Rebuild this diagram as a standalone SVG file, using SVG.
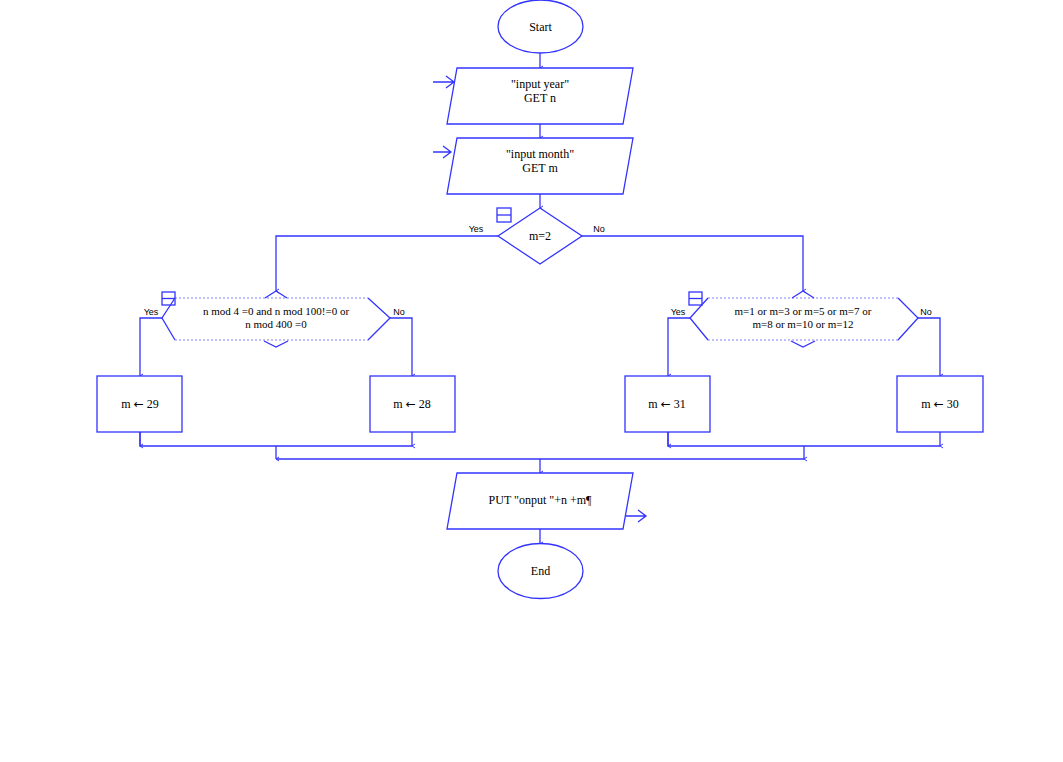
<svg xmlns="http://www.w3.org/2000/svg" width="1063" height="762" viewBox="0 0 1063 762">
<style>
.s{fill:#fff;stroke:#3333ff;stroke-width:1.3}
.d{fill:none;stroke:#8080ff;stroke-width:1;stroke-dasharray:2 2}
.l{fill:none;stroke:#3333ff;stroke-width:1.3}
.t{font-family:"Liberation Serif",serif;font-size:12px;fill:#000;text-anchor:middle}
.ar{font-family:"DejaVu Sans",sans-serif;font-size:12px}
.ts{font-family:"Liberation Sans",sans-serif;font-size:9px;fill:#000;text-anchor:middle}
</style>
<defs>
<marker id="a" markerWidth="6" markerHeight="6" refX="3" refY="5" orient="auto" markerUnits="userSpaceOnUse" viewBox="0 0 6 6">
<path d="M1,2 L3,5 L5,2" fill="none" stroke="#3333ff" stroke-width="1"/>
</marker>
</defs>
<rect width="1063" height="762" fill="#fff"/>
<g id="connectors">
<line class="l" x1="540" y1="53" x2="540" y2="68" marker-end="url(#a)"/>
<line class="l" x1="540" y1="124" x2="540" y2="138" marker-end="url(#a)"/>
<line class="l" x1="540" y1="194" x2="540" y2="208" marker-end="url(#a)"/>
<polyline class="l" points="498,236 276,236 276,291" marker-end="url(#a)"/>
<polyline class="l" points="582,236 803,236 803,291" marker-end="url(#a)"/>
<polyline class="l" points="162,318 140,318 140,376" marker-end="url(#a)"/>
<polyline class="l" points="390,318 412,318 412,376" marker-end="url(#a)"/>
<polyline class="l" points="690,318 668,318 668,376" marker-end="url(#a)"/>
<polyline class="l" points="918,318 940,318 940,376" marker-end="url(#a)"/>
<polyline class="l" points="140,432 140,446 412,446" />
<line class="l" x1="140" y1="432" x2="140" y2="446" marker-end="url(#a)"/>
<line class="l" x1="412" y1="432" x2="412" y2="446" marker-end="url(#a)"/>
<polyline class="l" points="668,432 668,446 940,446"/>
<line class="l" x1="668" y1="432" x2="668" y2="446" marker-end="url(#a)"/>
<line class="l" x1="940" y1="432" x2="940" y2="446" marker-end="url(#a)"/>
<line class="l" x1="276" y1="446" x2="276" y2="459" marker-end="url(#a)"/>
<line class="l" x1="804" y1="446" x2="804" y2="459" marker-end="url(#a)"/>
<line class="l" x1="276" y1="459" x2="804" y2="459"/>
<line class="l" x1="540" y1="459" x2="540" y2="473" marker-end="url(#a)"/>
<line class="l" x1="540" y1="529" x2="540" y2="544" marker-end="url(#a)"/>
<path class="l" d="M433,82 H454 M446,76 L454,82 L446,88"/>
<path class="l" d="M433,152 H451 M443,146 L451,152 L443,158"/>
<path class="l" d="M624,516 H646 M638,510 L646,516 L638,522"/>
</g>
<g id="start">
<ellipse class="s" cx="540.5" cy="26.5" rx="42.5" ry="26.5"/>
<text class="t" x="540.5" y="31">Start</text>
</g>
<g id="input-year">
<polygon class="s" points="457,68 633,68 623,124 447,124"/>
<text class="t" x="540" y="88">"input year"</text>
<text class="t" x="540" y="102">GET n</text>
</g>
<g id="input-month">
<polygon class="s" points="457,138 633,138 623,194 447,194"/>
<text class="t" x="540" y="158">"input month"</text>
<text class="t" x="540" y="172">GET m</text>
</g>
<g id="dec-m2">
<polygon class="s" points="540,208 582,236 540,264 498,236"/>
<text class="t" x="540" y="240">m=2</text>
<rect class="l" x="497" y="208" width="14" height="14"/>
<line class="l" x1="497" y1="215" x2="511" y2="215"/>
<text class="ts" x="476" y="232">Yes</text>
<text class="ts" x="599" y="232">No</text>
</g>
<g id="dec-leap">
<polyline class="l" points="175,298 162,318 175,340"/>
<polyline class="l" points="368,298 390,318 368,340"/>
<line class="d" x1="175" y1="298" x2="368" y2="298"/>
<line class="d" x1="175" y1="340" x2="368" y2="340"/>
<polyline class="l" points="265,298 276,291 287,298"/>
<polyline class="l" points="264,341 276,347 288,341"/>
<text class="t" x="276" y="315" style="font-size:11px">n mod 4 =0 and n mod 100!=0 or</text>
<text class="t" x="276" y="328" style="font-size:11px">n mod 400 =0</text>
<rect class="l" x="162" y="292" width="13" height="13"/>
<line class="l" x1="162" y1="298.5" x2="175" y2="298.5"/>
<text class="ts" x="151" y="315">Yes</text>
<text class="ts" x="399" y="315">No</text>
</g>
<g id="dec-31">
<polyline class="l" points="708,298 690,318 708,340"/>
<polyline class="l" points="898,298 918,318 898,340"/>
<line class="d" x1="708" y1="298" x2="898" y2="298"/>
<line class="d" x1="708" y1="340" x2="898" y2="340"/>
<polyline class="l" points="792,298 803,291 814,298"/>
<polyline class="l" points="791,341 803,347 815,341"/>
<text class="t" x="803" y="315" style="font-size:11px">m=1 or m=3 or m=5 or m=7 or</text>
<text class="t" x="803" y="328" style="font-size:11px">m=8 or m=10 or m=12</text>
<rect class="l" x="689" y="292" width="13" height="13"/>
<line class="l" x1="689" y1="298.5" x2="702" y2="298.5"/>
<text class="ts" x="678" y="315">Yes</text>
<text class="ts" x="926" y="315">No</text>
</g>
<g id="m29">
<rect class="s" x="97" y="376" width="85" height="56"/>
<text class="t" x="140" y="408">m <tspan class="ar">←</tspan> 29</text>
</g>
<g id="m28">
<rect class="s" x="370" y="376" width="85" height="56"/>
<text class="t" x="412" y="408">m <tspan class="ar">←</tspan> 28</text>
</g>
<g id="m31">
<rect class="s" x="625" y="376" width="85" height="56"/>
<text class="t" x="667" y="408">m <tspan class="ar">←</tspan> 31</text>
</g>
<g id="m30">
<rect class="s" x="897" y="376" width="86" height="56"/>
<text class="t" x="940" y="408">m <tspan class="ar">←</tspan> 30</text>
</g>
<g id="output">
<polygon class="s" points="457,473 633,473 623,529 447,529"/>
<text class="t" x="540" y="504">PUT "onput "+n +m¶</text>
</g>
<g id="end">
<ellipse class="s" cx="540.5" cy="571" rx="42.5" ry="27.5"/>
<text class="t" x="540.5" y="575">End</text>
</g>
</svg>
